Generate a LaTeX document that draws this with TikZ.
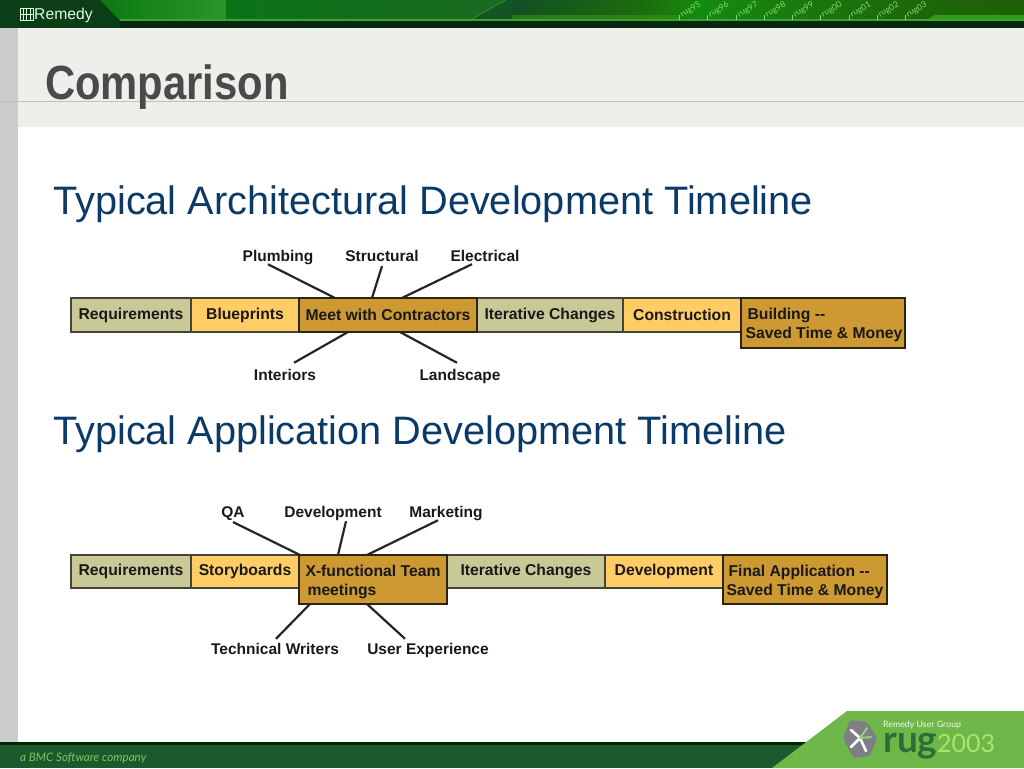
\documentclass[tikz,border=0pt]{standalone}
\usepackage{fontspec}
\setmainfont{Liberation Sans}
\newfontfamily\titlefont[FakeStretch=0.87]{Liberation Sans}
\newfontfamily\logofont{Lato}
\usetikzlibrary{calc}
\definecolor{tan}{HTML}{C9C998}
\definecolor{lightor}{HTML}{FFCC66}
\definecolor{darkor}{HTML}{CC9933}
\definecolor{edgec}{HTML}{45433A}
\definecolor{edgedk}{HTML}{2A2410}
\definecolor{headblue}{HTML}{0B3A68}
\definecolor{titlegray}{HTML}{4A4A4A}
\definecolor{bandbg}{HTML}{EEEFEB}
\definecolor{stripc}{HTML}{CCCCCA}
\definecolor{topdark}{HTML}{0B3D17}
\definecolor{topblack}{HTML}{06280F}
\definecolor{botgreen}{HTML}{1A5A2C}
\definecolor{lime}{HTML}{6FB748}
\definecolor{rugdark}{HTML}{2A6F3A}
\definecolor{ruglight}{HTML}{A8E66E}
\definecolor{hexgray}{HTML}{7E7F86}
\definecolor{gA}{HTML}{0A7A10}
\definecolor{gB}{HTML}{2A962A}
\definecolor{gC}{HTML}{0C7418}
\definecolor{gD}{HTML}{1B6A22}
\definecolor{gE}{HTML}{124F24}
\definecolor{gF}{HTML}{1D6B0E}
\definecolor{gG}{HTML}{148A10}
\definecolor{gH}{HTML}{1E5E08}
\definecolor{gI}{HTML}{2F9A14}
\definecolor{ruglabelc}{HTML}{7FDC5C}
\newcommand{\twoline}{\rule{0pt}{15.5pt}}
\tikzset{
  x=1pt,y=-1pt,
  tlbox/.style={draw=edgec,line width=2.2pt,inner sep=0pt,outer sep=0pt,anchor=north west,
    font=\bfseries\fontsize{15.7}{19}\selectfont,text=black!90,align=left},
  tanbox/.style={tlbox,fill=tan},
  lightbox/.style={tlbox,fill=lightor},
  keybox/.style={tlbox,fill=darkor,draw=edgedk,line width=2.6pt},
  tag/.style={inner sep=0pt,outer sep=0pt,anchor=base,font=\bfseries\fontsize{15.5}{18}\selectfont,text=black!90},
  spoke/.style={draw=black!85,line width=2.2pt},
  heading/.style={inner sep=0pt,anchor=base west,text=headblue,font=\fontsize{39.7}{46}\selectfont},
  rugtick/.style={draw=ruglabelc,line width=.6pt},
  ruglabel/.style={inner sep=0pt,anchor=south west,rotate=30,text=ruglabelc,font=\logofont\fontsize{8.5}{10}\selectfont},
}
\begin{document}
\begin{tikzpicture}
\useasboundingbox (0,0) rectangle (1024,768);
\fill[white] (0,0) rectangle (1024,768);
% title band and side strip
\fill[bandbg] (0,28) rectangle (1024,127);
\fill[stripc] (0,28) rectangle (18,742);
\draw[black!25,line width=.7pt] (0,101) -- (1024,101);
% top band
\shade[left color=gA,right color=gB] (100,0) rectangle (226,21);
\shade[left color=gC,right color=gD] (226,0) rectangle (512,21);
\shade[left color=gE,right color=gF] (512,0) rectangle (640,21);
\shade[left color=gF,right color=gG] (640,0) rectangle (700,21);
\shade[left color=gG,right color=gF] (700,0) rectangle (880,21);
\shade[left color=gF,right color=gH] (880,0) rectangle (1024,21);
\fill[gI,opacity=.6] (512,15) rectangle (680,20);
\fill[gI] (928,20) -- (934,15) -- (1024,15) -- (1024,20) -- cycle;
\fill[gE,opacity=.75] (470,21) -- (506,0) -- (512,0) -- (512,21) -- cycle;
\draw[gB,line width=.6pt] (470,20) -- (506,0);
\fill[gB!70!lime] (120,19.5) rectangle (1024,21);
\fill[topblack] (0,21) rectangle (1024,28);
\fill[topdark] (0,0) -- (100,0) -- (120,21) -- (120,28) -- (0,28) -- cycle;
% Remedy logo
\draw[white!85!green,line width=.8pt] (20.5,8) rectangle (33,20) (20.5,14) -- (33,14) (26.7,8) -- (26.7,20) (23.5,8) -- (23.5,20) (30,8) -- (30,20);
\node[inner sep=0pt,anchor=base west,text=white!85!green,font=\fontsize{15.7}{18}\selectfont] (remedy) at (34,19.5) {Remedy};
% rug ticks
\foreach \tx/\yr in {679/rug95,707/rug96,736/rug97,764/rug98,792/rug99,820/rug00,849/rug01,877/rug02,905/rug03}{
  \draw[rugtick] (\tx,15) -- (\tx,20);
  \node[ruglabel] at (\tx+4,19) {\yr};
}
% footer
\fill[black!85!green] (0,741.5) rectangle (1024,744.5);
\fill[botgreen] (0,744.5) rectangle (1024,768);
\fill[lime] (847,711) -- (1024,711) -- (1024,768) -- (772,768) -- cycle;
\node[inner sep=0pt,anchor=base west,text=lime!85!white,font=\logofont\itshape\fontsize{11.7}{14}\selectfont] (bmc) at (20,761) {a BMC Software company};
% rug logo
\fill[hexgray,rounded corners=2pt] (850,720) -- (867,722) -- (877,738) -- (870,756) -- (853,758) -- (843,738) -- cycle;
\draw[white,line width=2.6pt,line cap=round] (851,730) -- (860,738) -- (851,747) (860,738) -- (866,751);
\draw[lime!70!white,line width=2pt,line cap=round] (860,738) -- (871,737) (860,738) -- (867,728);
\node[inner sep=0pt,anchor=base west,text=white!90!lime,font=\logofont\fontsize{8.8}{12}\selectfont] (rugtitle) at (883,727.5) {Remedy User Group};
\node[inner sep=0pt,anchor=base west,text=rugdark,font=\logofont\bfseries\fontsize{37}{40}\selectfont] (rugname) at (883,752) {rug};
\node[inner sep=0pt,anchor=base west,text=ruglight,font=\logofont\fontsize{25}{30}\selectfont] (rugyear) at (937,752) {2003};
% title and headings
\node[inner sep=0pt,anchor=base west,text=titlegray,font=\titlefont\bfseries\fontsize{48}{56}\selectfont] (title) at (45,99) {Comparison};
\node[heading] (head1) at (53,214) {Typical Architectural Development Timeline};
\node[heading] (head2) at (53,444) {Typical Application Development Timeline};
% architectural timeline
\node[tanbox,minimum width=120pt,minimum height=34pt] (areq) at (71,298) {Requirements};
\node[lightbox,minimum width=108pt,minimum height=34pt] (ablue) at (191,298) {Blueprints};
\node[tanbox,minimum width=146pt,minimum height=34pt] (aiter) at (477,298) {Iterative Changes};
\node[lightbox,minimum width=118pt,minimum height=34pt] (acons) at (623,298) {Construction};
\node[keybox,minimum width=178pt,minimum height=34pt] (ameet) at (299,298) {Meet with Contractors};
\node[keybox,minimum width=164pt,minimum height=50pt] (abuild) at (741,298) {\twoline\hspace*{4pt}Building {-}{-}\\\hspace*{2pt}Saved Time \& Money};
\node[tag] (plumb) at (278,261) {Plumbing};
\node[tag] (struct) at (382,261) {Structural};
\node[tag] (elec) at (485,261) {Electrical};
\node[tag] (inter) at (285,380) {Interiors};
\node[tag] (land) at (460,380) {Landscape};
\draw[spoke] ([xshift=-10pt]plumb.south) -- ([xshift=36pt]ameet.north west);
\draw[spoke] ([yshift=-5pt]struct.south) -- ([xshift=73pt]ameet.north west);
\draw[spoke] ([xshift=-13pt,yshift=-3pt]elec.south) -- ([xshift=103pt]ameet.north west);
\draw[spoke] ([xshift=9pt,yshift=6pt]inter.north) -- ([xshift=49pt]ameet.south west);
\draw[spoke] ([xshift=-3pt,yshift=6pt]land.north) -- ([xshift=101pt]ameet.south west);
% application timeline
\node[tanbox,minimum width=120pt,minimum height=33pt] (breq) at (71,555) {Requirements};
\node[lightbox,minimum width=108pt,minimum height=33pt] (bstory) at (191,555) {Storyboards};
\node[tanbox,minimum width=158pt,minimum height=33pt] (biter) at (447,555) {Iterative Changes};
\node[lightbox,minimum width=118pt,minimum height=33pt] (bdev) at (605,555) {Development};
\node[keybox,minimum width=148pt,minimum height=49pt] (bteam) at (299,555) {\twoline X-functional Team\\\hspace*{2pt}meetings};
\node[keybox,minimum width=164pt,minimum height=49pt] (bfinal) at (723,555) {\twoline\hspace*{2pt}Final Application {-}{-}\\Saved Time \& Money};
\node[tag] (qa) at (233,517) {QA};
\node[tag] (dev) at (333,517) {Development};
\node[tag] (mark) at (446,517) {Marketing};
\node[tag] (tech) at (275,654) {Technical Writers};
\node[tag] (ux) at (428,654) {User Experience};
\draw[spoke] ([yshift=-2pt]qa.south) -- ([xshift=1pt]bteam.north west);
\draw[spoke] ([xshift=13pt,yshift=-1pt]dev.south) -- ([xshift=39pt]bteam.north west);
\draw[spoke] ([xshift=-8pt]mark.south) -- ([xshift=68pt]bteam.north west);
\draw[spoke] ([xshift=1pt,yshift=4pt]tech.north) -- ([xshift=11pt]bteam.south west);
\draw[spoke] ([xshift=-23pt,yshift=4pt]ux.north) -- ([xshift=68pt]bteam.south west);
\end{tikzpicture}
\end{document}
